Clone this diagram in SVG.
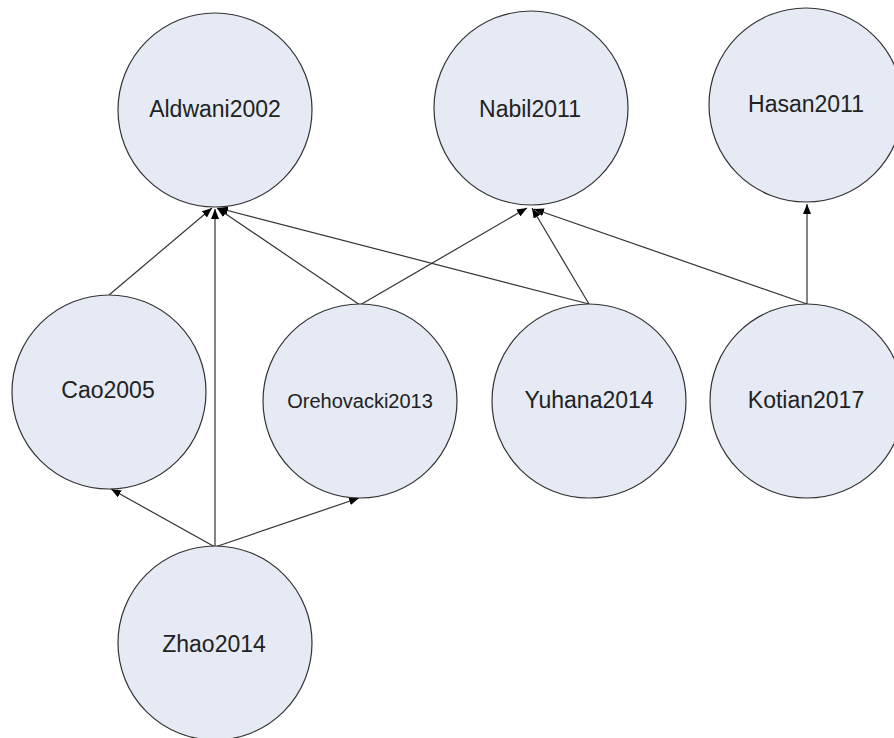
<svg xmlns="http://www.w3.org/2000/svg" width="894" height="738" viewBox="0 0 894 738">
<style>
.node circle{fill:#e5eaf4;stroke:#333;stroke-width:1.2}
.node text{font-family:"Liberation Sans",Arial,sans-serif;font-size:23px;fill:#222;text-anchor:middle}
.node text.small{font-size:20px}
.edges line{stroke:#333;stroke-width:1.2;marker-end:url(#arr)}
</style>
<defs>
<marker id="arr" viewBox="0 0 10 8" refX="10" refY="4" markerWidth="10" markerHeight="8" markerUnits="userSpaceOnUse" orient="auto">
<path d="M0,0 L10,4 L0,8 z" fill="#000"/>
</marker>
</defs>
<rect width="894" height="738" fill="#fff"/>
<g class="edges">
<line x1="109" y1="295" x2="212" y2="208"/>
<line x1="215" y1="547" x2="215" y2="209"/>
<line x1="360" y1="305" x2="217" y2="208"/>
<line x1="589" y1="304" x2="218" y2="208"/>
<line x1="360" y1="305" x2="527" y2="208"/>
<line x1="589" y1="304" x2="532" y2="208"/>
<line x1="807" y1="304" x2="534" y2="209"/>
<line x1="807" y1="304" x2="807" y2="204"/>
<line x1="215" y1="547" x2="111" y2="489"/>
<line x1="215" y1="547" x2="359" y2="498"/>
</g>
<g id="Aldwani2002" class="node"><circle cx="215" cy="110" r="97"/><text x="215" y="117">Aldwani2002</text></g>
<g id="Nabil2011" class="node"><circle cx="531" cy="108" r="97"/><text x="530" y="117">Nabil2011</text></g>
<g id="Hasan2011" class="node"><circle cx="806" cy="105" r="97"/><text x="806" y="112">Hasan2011</text></g>
<g id="Cao2005" class="node"><circle cx="109" cy="392" r="97"/><text x="108" y="398">Cao2005</text></g>
<g id="Orehovacki2013" class="node"><circle cx="360" cy="401" r="97"/><text class="small" x="360" y="408">Orehovacki2013</text></g>
<g id="Yuhana2014" class="node"><circle cx="589" cy="401" r="97"/><text x="589" y="408">Yuhana2014</text></g>
<g id="Kotian2017" class="node"><circle cx="807" cy="401" r="97"/><text x="806" y="408">Kotian2017</text></g>
<g id="Zhao2014" class="node"><circle cx="215" cy="643" r="97"/><text x="214" y="652">Zhao2014</text></g>
</svg>
